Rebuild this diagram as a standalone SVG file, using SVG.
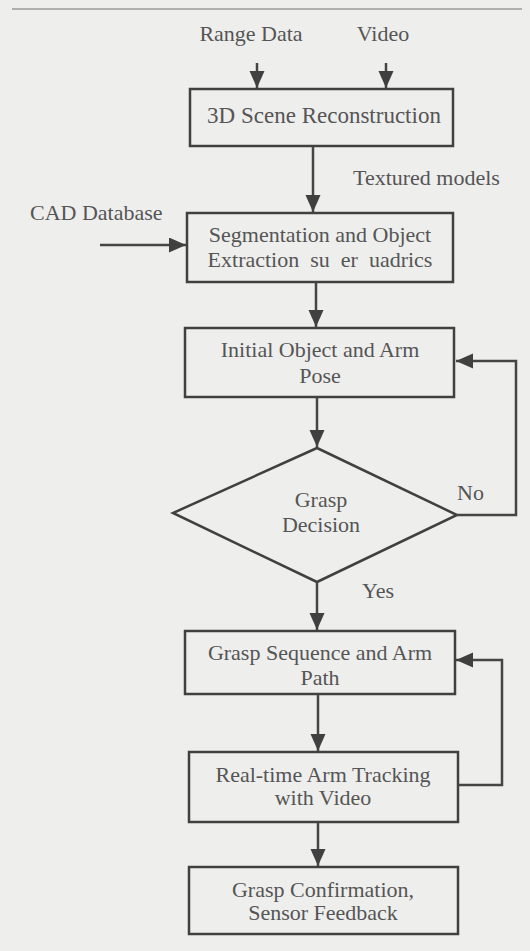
<svg xmlns="http://www.w3.org/2000/svg" width="530" height="951" viewBox="0 0 530 951">
<style>
.box{fill:none;stroke:#404040;stroke-width:2.5}
.ln{fill:none;stroke:#454545;stroke-width:2.5}
.t{font-family:'Liberation Serif','DejaVu Serif',serif;font-size:22px;fill:#555555}
.c{text-anchor:middle}
</style>
<defs>
<marker id="ah" markerUnits="userSpaceOnUse" markerWidth="18" markerHeight="16" refX="17" refY="7.5" orient="auto">
<path d="M0,0 L17,7.5 L0,15 z" fill="#404040"/>
</marker>
</defs>
<rect width="530" height="951" fill="#eeeeed"/>
<line x1="12" y1="9" x2="522" y2="9" stroke="#9a9a9a" stroke-width="1.5"/>
<g class="t" font-family="Liberation Serif, DejaVu Serif, serif">
<g id="inputs">
<text class="c" x="251" y="41">Range Data</text>
<text class="c" x="383" y="41">Video</text>
<text x="30" y="220">CAD Database</text>
</g>
<g id="n1"><rect class="box" x="190" y="89" width="263" height="57"/><text class="c" x="324" y="123" font-size="23">3D Scene Reconstruction</text></g>
<g id="n2"><rect class="box" x="187" y="213" width="266" height="69"/><text class="c" x="320" y="242">Segmentation and Object</text><text class="c" x="320" y="267" xml:space="preserve">Extraction  su  er  uadrics</text></g>
<g id="n3"><rect class="box" x="185" y="328" width="269" height="69"/><text class="c" x="320" y="357">Initial Object and Arm</text><text class="c" x="320" y="383">Pose</text></g>
<g id="n4"><polygon class="box" points="317,448 457,515 317,582 173,513"/><text class="c" x="321" y="507">Grasp</text><text class="c" x="321" y="532">Decision</text></g>
<g id="n5"><rect class="box" x="185" y="631" width="270" height="63"/><text class="c" x="320" y="660">Grasp Sequence and Arm</text><text class="c" x="320" y="685">Path</text></g>
<g id="n6"><rect class="box" x="189" y="752" width="269" height="70"/><text class="c" x="323" y="782">Real-time Arm Tracking</text><text class="c" x="323" y="805">with Video</text></g>
<g id="n7"><rect class="box" x="189" y="867" width="269" height="67"/><text class="c" x="323" y="897">Grasp Confirmation,</text><text class="c" x="323" y="920">Sensor Feedback</text></g>
<g id="labels">
<text x="353" y="185">Textured models</text>
<text x="457" y="500">No</text>
<text x="362" y="598">Yes</text>
</g>
</g>
<g id="connectors">
<line class="ln" x1="257" y1="63" x2="257" y2="88" marker-end="url(#ah)"/>
<line class="ln" x1="386" y1="63" x2="386" y2="88" marker-end="url(#ah)"/>
<line class="ln" x1="313" y1="147" x2="313" y2="212" marker-end="url(#ah)"/>
<line class="ln" x1="100" y1="245" x2="186" y2="245" marker-end="url(#ah)"/>
<line class="ln" x1="316" y1="282" x2="316" y2="327" marker-end="url(#ah)"/>
<line class="ln" x1="317" y1="397" x2="317" y2="447" marker-end="url(#ah)"/>
<polyline class="ln" points="457,515 516,515 516,361 456,361" marker-end="url(#ah)"/>
<line class="ln" x1="317" y1="582" x2="317" y2="630" marker-end="url(#ah)"/>
<polyline class="ln" points="458,785 502,785 502,660 456,660" marker-end="url(#ah)"/>
<line class="ln" x1="318" y1="694" x2="318" y2="751" marker-end="url(#ah)"/>
<line class="ln" x1="318" y1="822" x2="318" y2="866" marker-end="url(#ah)"/>
</g>
</svg>
